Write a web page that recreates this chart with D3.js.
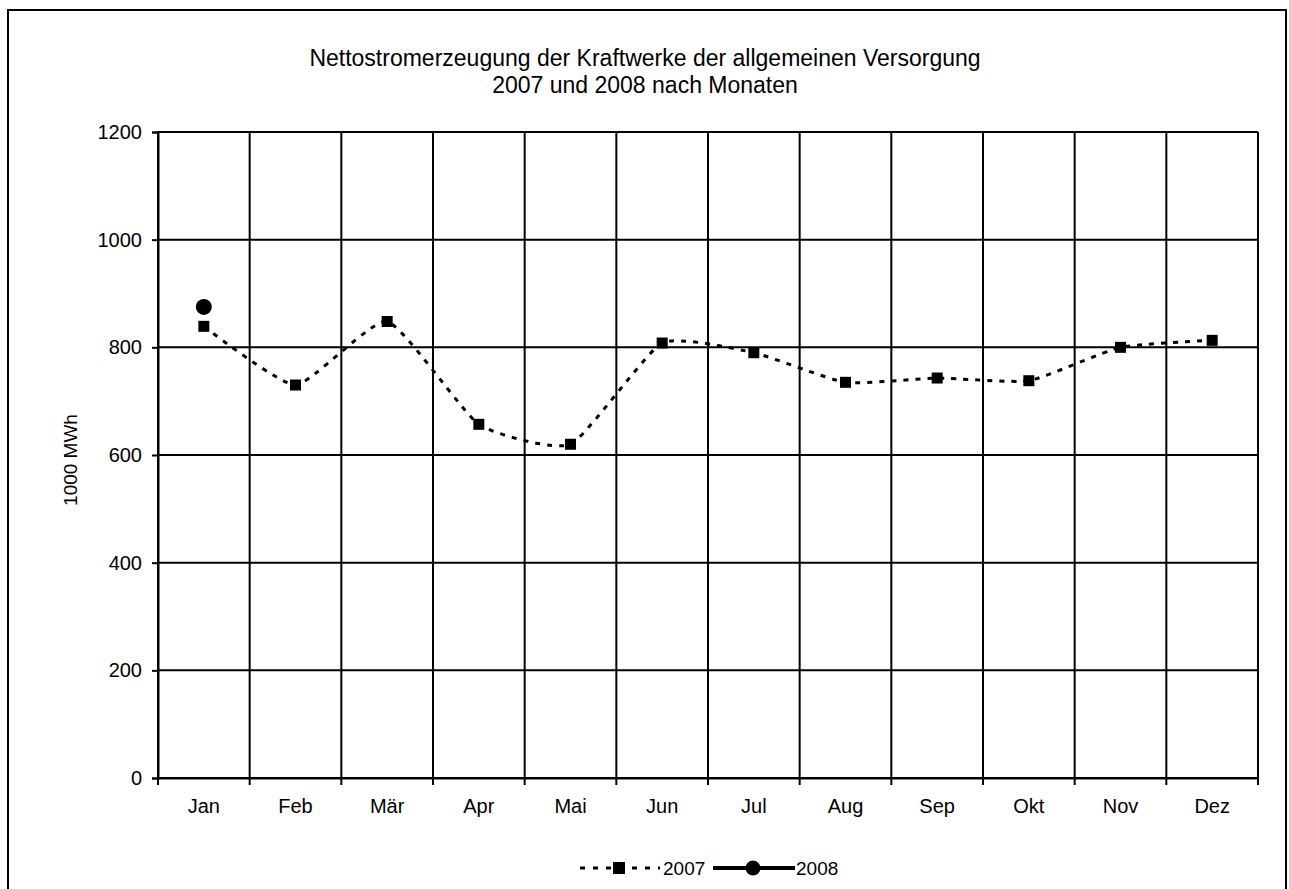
<!DOCTYPE html>
<html>
<head>
<meta charset="utf-8">
<script src="https://cdn.jsdelivr.net/npm/d3@7"></script>
<style>
  html, body { margin: 0; padding: 0; background: #fff; }
  svg { display: block; font-family: "Liberation Sans", Arial, sans-serif; }
</style>
</head>
<body>
<svg id="chart" width="1289" height="889"></svg>
<script>
const months = ["Jan","Feb","Mär","Apr","Mai","Jun","Jul","Aug","Sep","Okt","Nov","Dez"];
const values2007 = [839, 730, 848, 657, 620, 808, 790, 735, 743, 738, 800, 813];
const values2008 = [875];
const yTicks = [0, 200, 400, 600, 800, 1000, 1200];
const titleLines = ["Nettostromerzeugung der Kraftwerke der allgemeinen Versorgung", "2007 und 2008 nach Monaten"];
const yLabel = "1000 MWh";
const seriesNames = ["2007", "2008"];

const FONT = "Liberation Sans, Arial, sans-serif";
const svg = d3.select("#chart");
const m = {left: 158, right: 1258, top: 132, bottom: 778};

// outer frame
svg.append("rect").attr("x", 8).attr("y", 10).attr("width", 1278).attr("height", 900)
  .attr("fill", "#fff").attr("stroke", "#000").attr("stroke-width", 2);

const x = d3.scaleBand().domain(months).range([m.left, m.right]).padding(0);
const y = d3.scaleLinear().domain([0, 1200]).range([m.bottom, m.top]);

// title
svg.append("g").selectAll("text").data(titleLines).join("text")
  .attr("x", 645).attr("y", (d, i) => 66 + i * 26.5)
  .attr("text-anchor", "middle").attr("font-size", 23)
  .text(d => d);

// horizontal gridlines
svg.append("g").selectAll("line").data(yTicks).join("line")
  .attr("x1", m.left).attr("x2", m.right)
  .attr("y1", d => y(d)).attr("y2", d => y(d))
  .attr("stroke", "#000").attr("stroke-width", 2);

// vertical gridlines at category boundaries (extend as x ticks)
const bounds = months.map(d => x(d)).concat([m.right]);
svg.append("g").selectAll("line").data(bounds).join("line")
  .attr("x1", d => d).attr("x2", d => d)
  .attr("y1", m.top).attr("y2", m.bottom + 7)
  .attr("stroke", "#000").attr("stroke-width", 2);

// y axis
const yAxis = d3.axisLeft(y).tickValues(yTicks).tickSize(6).tickPadding(10).tickFormat(d3.format("d"));
const gy = svg.append("g").attr("transform", `translate(${m.left},0)`).call(yAxis);
gy.attr("font-family", FONT).attr("font-size", 20);
gy.select(".domain").attr("stroke-width", 2);
gy.selectAll(".tick line").attr("stroke-width", 2);
gy.selectAll("text").attr("fill", "#000");

// x axis labels
const xAxis = d3.axisBottom(x).tickSize(0).tickPadding(21);
const gx = svg.append("g").attr("transform", `translate(0,${m.bottom})`).call(xAxis);
gx.attr("font-family", FONT).attr("font-size", 20);
gx.select(".domain").attr("stroke-width", 2);
gx.selectAll("text").attr("fill", "#000");

// y label
svg.append("text").attr("transform", `translate(77,460) rotate(-90)`)
  .attr("text-anchor", "middle").attr("font-size", 19).text(yLabel);

// 2007 smoothed dashed line
const cx = d => x(d) + x.bandwidth() / 2;
const line = d3.line().x((d, i) => cx(months[i])).y(d => y(d)).curve(d3.curveCardinal.tension(0.5));
svg.append("path").datum(values2007).attr("d", line)
  .attr("fill", "none").attr("stroke", "#000").attr("stroke-width", 3).attr("stroke-dasharray", "5,7");
svg.append("g").selectAll("rect").data(values2007).join("rect")
  .attr("x", (d, i) => cx(months[i]) - 5.5).attr("y", d => y(d) - 5.5)
  .attr("width", 11).attr("height", 11).attr("fill", "#000");

// 2008
svg.append("path").datum(values2008).attr("d", line)
  .attr("fill", "none").attr("stroke", "#000").attr("stroke-width", 4);
svg.append("g").selectAll("circle").data(values2008).join("circle")
  .attr("cx", (d, i) => cx(months[i])).attr("cy", d => y(d)).attr("r", 8).attr("fill", "#000");

// legend
const ly = 868;
const lg = svg.append("g").attr("font-size", 19);
lg.append("line").attr("x1", 580).attr("x2", 660).attr("y1", ly).attr("y2", ly)
  .attr("stroke", "#000").attr("stroke-width", 3).attr("stroke-dasharray", "5,8");
lg.append("rect").attr("x", 613).attr("y", ly - 6).attr("width", 12).attr("height", 12).attr("fill", "#000");
lg.append("text").attr("x", 663).attr("y", ly + 7).text(seriesNames[0]);
lg.append("line").attr("x1", 713).attr("x2", 795).attr("y1", ly).attr("y2", ly)
  .attr("stroke", "#000").attr("stroke-width", 4);
lg.append("circle").attr("cx", 753).attr("cy", ly).attr("r", 7.5).attr("fill", "#000");
lg.append("text").attr("x", 796).attr("y", ly + 7).text(seriesNames[1]);
</script>
</body>
</html>
